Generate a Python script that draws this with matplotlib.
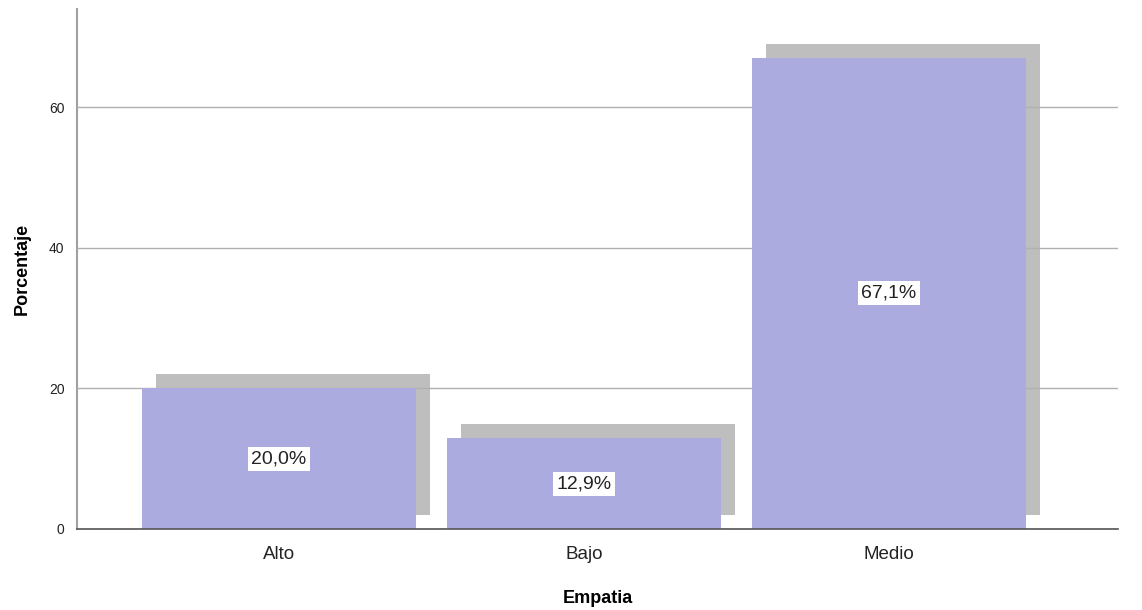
import numpy as np
import matplotlib.pyplot as plt

plt.rcParams['font.family'] = ['Liberation Sans', 'DejaVu Sans']

categories = ['Alto', 'Bajo', 'Medio']
percentages = [20.0, 12.9, 67.1]
labels = ['20,0%', '12,9%', '67,1%']
yticks = [0, 20, 40, 60]

BAR = '#ABABDF'
SHADOW = '#BEBEBE'

fig = plt.figure(figsize=(11.42, 6.10), dpi=100)
ax = fig.add_axes([0.0674, 0.1328, 0.9116, 0.8522])

x = np.arange(len(categories))
width = 0.9
dx, dy = 0.046, 2.0

# shadow bars (shifted right and up)
ax.bar(x + dx, percentages, width=width, bottom=dy, color=SHADOW, zorder=1)
ax.grid(axis='y', color='#B0B0B0', linewidth=1.0, zorder=2)
ax.set_axisbelow(False)
for gl in ax.get_ygridlines():
    gl.set_zorder(2)
ax.bar(x, percentages, width=width, color=BAR, zorder=3)

for xi, v, lab in zip(x, percentages, labels):
    ax.text(xi, v / 2, lab, ha='center', va='center', fontsize=14, color='#222222',
            zorder=5, bbox=dict(facecolor='white', edgecolor='none', pad=2.5))

ax.set_xlim(-0.662, 2.751)
ax.set_ylim(0, 74)
ax.set_xticks(x)
ax.set_xticklabels(categories, fontsize=13.5, color='#222222')
ax.set_yticks(yticks)
ax.set_yticklabels([str(t) for t in yticks], fontsize=10, color='#222222')
ax.tick_params(length=0)
ax.tick_params(axis='y', pad=9)
ax.tick_params(axis='x', pad=12)

ax.spines['top'].set_visible(False)
ax.spines['right'].set_visible(False)
ax.spines['left'].set_color('#A0A0A0')
ax.spines['left'].set_linewidth(1.5)
ax.spines['bottom'].set_color('#555555')
ax.spines['bottom'].set_linewidth(1.2)
ax.spines['bottom'].set_zorder(4)

ax.set_xlabel('Empatia', fontsize=13, fontweight='bold', labelpad=20)
ax.set_ylabel('Porcentaje', fontsize=13, fontweight='bold', labelpad=13)

fig.savefig('out.png', dpi=100, facecolor='white')
